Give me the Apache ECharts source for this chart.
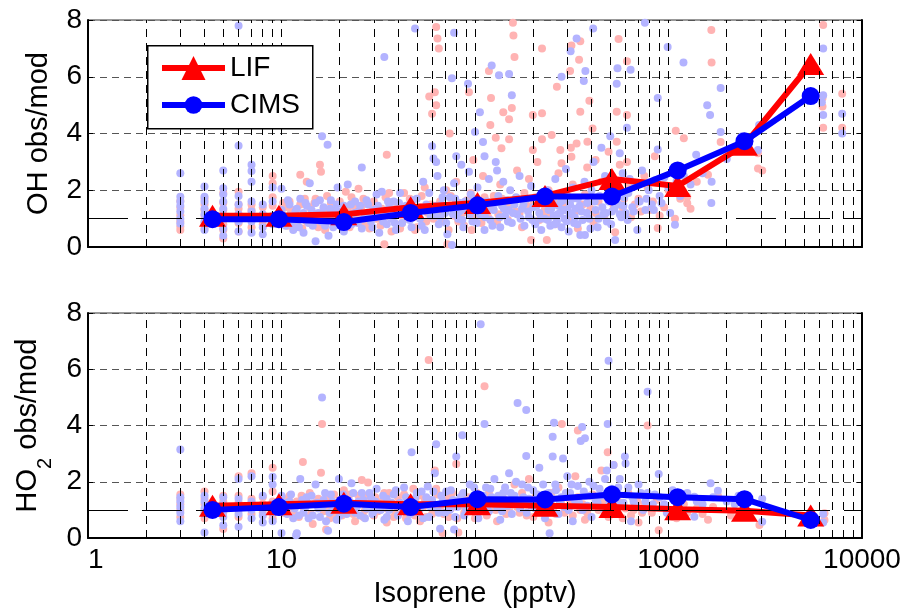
<!DOCTYPE html>
<html>
<head>
<meta charset="utf-8">
<script src="https://cdn.jsdelivr.net/npm/echarts@6/dist/echarts.min.js"></script>
<style>
html,body{margin:0;padding:0;background:#fff;}
#chart{width:906px;height:609px;}
</style>
</head>
<body>
<div id="chart"></div>
<script>
// ---------- data ----------
const binX = [4.4, 9.7, 21, 46.5, 103, 230, 510, 1115, 2470, 5430];
const ohLIF = [1.1, 1.1, 1.15, 1.4, 1.55, 1.8, 2.4, 2.15, 3.6, 6.45];
const ohCIMS = [0.98, 0.98, 0.88, 1.2, 1.47, 1.78, 1.78, 2.7, 3.73, 5.32];
const ho2LIF = [1.15, 1.2, 1.25, 1.2, 1.2, 1.15, 1.1, 1.02, 0.97, 0.8];
const ho2CIMS = [1.0, 1.1, 1.22, 1.1, 1.38, 1.37, 1.55, 1.45, 1.38, 0.64];

const xTickLabels = ['1', '10', '100', '1000', '10000'];
const decades = [1, 10, 100, 1000];
const minorMultipliers = [2, 3, 4, 5, 6, 7, 8, 9, 10];

// OH, LIF (pink scatter)
const ohLifPts = [
[3,1.62],[3,1.38],[3,1.12],[3,0.9],[3,0.72],[3,0.6],
[4,1.7],[4,1.5],[4,1.3],[4,1.1],[4,0.85],[4,0.65],
[5,1.9],[5,1.55],[5,1.3],[5,1.05],[5,0.8],[5,0.6],[5,0.3],
[6,1.95],[6,1.5],[6,1.35],[6,1.1],[6,0.85],[6,0.55],
[7,1.5],[7,1.3],[7,1.05],[7,0.7],
[8,1.4],[8,1.1],[8,0.8],
[9,2.5],[9,2.25],[9,1.75],[9,1.45],[9,1.1],[9,0.85],
[10,1.2],[10,0.95],[10.5,1.4],[11,1.6],[11,1.0],[11.5,1.3],[12,0.8],[12.5,2.55],[12.5,1.5],[13,1.1],[13.5,2.3],[13.5,0.9],
[14,1.4],[14.5,1.2],[15,1.7],[15.5,0.7],[15.8,2.9],[16,2.65],[16.5,1.35],[17,1.05],[18,1.55],[18.5,0.85],[19,1.2],[20,1.6],
[21,0.95],[22,1.3],[23,1.75],[24,1.05],[25,2.05],[26,1.45],[27,0.8],[28,1.2],[30,1.6],[31,1.0],[33,1.35],[34,0.1],[35,3.25],
[36,1.9],[37,0.55],[38,1.15],[40,1.5],[42,0.85],[44,1.25],[46,1.7],[48,1.05],[50,0.7],[52,1.4],[55,2.1],[57,1.2],
[58,5.3],[60,4.7],[62,5.45],[63,5.0],[63,7.75],[64,7.35],[65,7.0],[66,1.6],[68,0.9],[70,1.3],[72,0.1],[74,4.0],[75,1.8],
[78,1.1],[80,2.3],[85,1.5],[88,0.75],[90,1.25],[93,5.45],[95,1.9],[98,3.07],[100,1.05],[105,1.6],[110,2.5],[115,1.3],
[118,6.2],[120,4.3],[121,5.25],[125,1.8],[128,3.85],[130,0.9],[135,2.2],[137,3.48],[140,4.75],[145,1.4],[150,4.5],[150,3.8],
[155,4.9],[157,7.9],[158,7.45],[160,6.7],[165,2.7],[170,1.2],[180,1.9],[190,2.4],[195,0.25],[199,4.65],[199,3.42],[200,1.5],
[210,3.0],[222,7.0],[222,4.71],[222,3.8],[225,1.1],[235,0.25],[240,2.0],[249,3.95],[255,1.6],[265,5.65],[270,2.6],[276,3.42],
[280,2.95],[285,1.3],[300,1.8],[310,6.2],[313,3.5],[315,7.1],[315,3.18],[320,2.2],[335,3.65],[345,6.6],[350,7.25],[350,4.77],
[360,1.5],[380,2.8],[381,3.71],[390,5.15],[405,4.18],[420,3.07],[420,1.2],[450,2.3],[490,3.36],[500,1.9],[530,0.52],
[540,4.77],[540,3.71],[552,7.33],[560,2.9],[580,1.4],[610,6.55],[610,4.65],[610,3.0],[620,2.2],[700,1.7],[750,2.5],[800,1.3],
[850,3.2],[880,0.67],[900,1.1],[1000,2.0],[1080,1.0],[1090,4.1],[1200,3.83],[1250,1.77],[1250,1.54],[1400,2.3],[1600,2.55],
[1665,7.65],[1670,6.5],[1860,3.7],[2900,3.3],[2900,2.77],[3050,2.7],[6250,5.25],[6250,4.95],[6300,7.82],[6300,4.2],[7900,5.4],[7900,4.2],
[10.2,1.55],[10.8,0.75],[11.2,1.25],[12.2,1.05],[12.8,0.65],[13.2,1.7],[14.2,0.95],[14.8,1.55],[15.2,1.05],[16.8,0.6],[17.2,1.8],
[17.8,1.25],[19.5,0.9],[20.5,1.15],[21.5,1.95],[22.5,0.7],[23.5,1.45],[24.5,1.25],[25.5,0.95],[26.5,1.7],[28.5,0.65],[29.5,1.45],
[31.5,1.25],[32.5,0.75],[34.5,1.75],[36.5,1.05],[39,1.35],[41,0.65],[43,1.9],[45,1.0],[47,1.5],[49,0.6],[51,1.25],[53,1.8],
[56,0.9],[59,1.5],[61,1.0],[67,1.25],[71,2.0],[73,0.6],[77,1.45],[82,0.9],[86,1.2],[91,1.65],[96,0.6],[102,1.3],[108,0.85],
[112,1.75],[117,1.05],[123,1.45],[132,1.15],[138,1.7],[148,0.95],[153,1.55],[162,1.25],[175,0.7],[185,1.45],[205,1.75],[215,0.95],
[230,1.35],[245,1.15],[260,0.8],[290,1.55],[305,1.0],[330,1.25],[340,0.65],[370,1.85],[395,1.35],[410,0.85],[435,1.6],[465,1.1],
[520,1.45],[590,1.7],[640,1.05],[670,1.5],[720,1.25],[780,2.1],[830,1.6],[950,1.4],[1150,1.7],[1300,1.35]
];

// OH, CIMS (blue scatter)
const ohCimsPts = [
[3,2.6],[3,1.77],[3,1.6],[3,1.45],[3,1.25],[3,1.0],[3,0.83],
[4,2.13],[4,1.77],[4,1.6],[4,1.35],[4,1.15],[4,0.9],[4,0.6],
[5,2.7],[5,2.07],[5,1.85],[5,1.6],[5,1.35],[5,1.1],[5,0.65],[5,0.4],
[6,7.8],[6,3.57],[6,1.8],[6,1.5],[6,1.15],[6,0.9],[6,0.55],
[7,2.9],[7,2.68],[7,2.3],[7,1.6],[7,1.25],[7,0.9],[7,0.5],
[8,1.5],[8,1.15],[8,0.7],[8,0.45],
[9,2.1],[9,1.6],[9,1.1],[9,0.8],
[10,2.05],[10,1.3],[10.5,0.75],[11,1.5],[11,1.1],[11.5,0.6],[12,1.35],[12,0.95],[12.5,1.7],[13,1.2],[13,0.5],[13.5,1.45],
[14,1.0],[14,2.25],[14.5,0.75],[15,1.55],[15,0.2],[15.5,1.2],[16.2,3.9],[16,0.9],[16.5,1.4],[17.3,3.6],[17.5,0.4],[17.5,1.1],
[18,1.65],[18.5,0.7],[19,1.3],[19.5,2.1],[20,1.0],[21,1.45],[21,0.55],[22,2.2],[22.5,1.15],[23,0.8],[24,1.6],[25,1.25],
[26,2.8],[26,0.65],[27,1.05],[28,1.5],[29,0.9],[30,1.3],[31,1.85],[32,0.5],[33,1.95],[33,1.15],[34,6.7],[35,0.8],[36,1.4],
[37,1.0],[38,1.6],[39,0.6],[40,1.2],[41,1.9],[42,0.85],[44,1.45],[45,1.1],[47,0.7],[48,1.3],[49,7.7],
[50,1.7],[52,1.0],[54,2.3],[55,0.6],[57,1.35],[58,1.9],[60,3.55],[61,3.12],[62,1.1],[63,3.0],[64,2.5],[65,0.8],[67,1.5],
[69,2.0],[70,1.2],[72,0.45],[74,1.75],[76,0.07],[76,5.95],[78,7.55],[78,2.25],[80,3.2],[82,1.0],[84,1.55],[85,2.9],[87,0.7],
[90,1.3],[92,5.75],[93,2.65],[95,1.85],[97,0.9],[100,4.05],[100,1.4],[103,2.1],[106,4.75],[106,1.15],[110,3.7],[112,3.2],
[112,0.6],[115,1.6],[118,2.4],[120,0.95],[122,6.4],[125,1.3],[128,3.0],[130,2.7],[132,1.8],[133,6.05],[135,0.7],[138,1.45],
[140,2.3],[143,1.1],[146,1.65],[150,6.1],[150,1.3],[152,2.0],[155,5.35],[155,0.85],[160,1.5],[165,1.15],[170,2.5],[175,1.35],
[180,0.75],[185,1.7],[190,1.05],[195,2.15],
[200,1.4],[205,0.8],[210,1.75],[215,1.2],[220,0.6],[225,1.55],[230,1.0],[235,2.0],[240,1.3],[245,0.75],[250,1.6],[255,1.1],
[260,2.4],[265,0.9],[270,1.45],[275,1.2],[280,6.0],[280,0.7],[285,1.65],[290,1.0],[295,2.75],[300,1.3],[305,0.55],[312,6.9],
[310,1.5],[315,1.15],[320,2.1],[325,0.85],[330,1.35],[335,7.35],[340,1.7],[350,0.42],[355,1.25],[365,5.85],[368,2.3],[370,0.42],
[372,6.2],[380,1.55],[390,1.0],[400,2.0],[408,7.7],[410,3.0],[420,1.3],[430,0.7],[440,1.8],[450,3.5],[460,1.15],[470,2.5],
[480,0.9],[490,1.6],[500,3.9],[510,1.25],[520,2.05],[530,0.25],[540,5.75],[545,6.3],[550,1.5],[560,3.3],[570,1.05],[580,2.6],
[590,1.75],[600,1.2],[610,4.2],[620,1.9],[630,2.4],[637,6.25],[650,1.4],[670,2.2],[690,0.6],[710,1.6],[730,2.7],[755,7.9],
[760,1.3],[790,2.0],[820,1.5],[850,2.35],[880,5.25],[880,3.44],[900,1.8],[950,2.45],[990,7.05],[1000,2.1],
[1080,0.78],[1100,2.3],[1195,6.5],[1200,2.5],[1300,2.2],[1390,3.25],[1500,2.6],[1585,5.0],[1640,4.65],[1665,1.55],[1670,2.3],
[1860,5.6],[1860,4.05],[2000,3.1],[2400,3.9],[2900,3.42],[2940,4.3],
[6200,5.1],[6300,7.0],[6300,5.35],[6300,4.65],[7900,4.7],[7900,4.0],
[10.2,0.95],[10.8,1.65],[11.3,0.85],[11.8,1.25],[12.3,0.7],[12.8,1.05],[13.3,1.55],[13.8,0.85],[14.3,1.3],[15.3,0.95],[15.8,1.65],
[16.3,1.15],[16.8,0.75],[17.8,1.35],[18.3,0.95],[19.3,1.5],[20.3,1.25],[20.8,0.7],[21.8,1.05],[22.8,1.5],[23.8,1.2],[24.8,0.85],
[25.5,1.45],[26.5,1.0],[27.5,1.65],[28.5,1.2],[29.5,0.7],[30.5,1.05],[31.5,1.45],[33.5,0.9],[34.5,1.25],[35.5,1.6],[37.5,1.3],
[38.5,0.85],[40.5,1.55],[43,1.2],[46,0.95],[47.5,1.65],[50.5,1.2],[53,0.75],[56,1.5],[59,1.1],[62.5,1.45],[66,1.05],[68,1.75],
[71,0.85],[73,1.45],[77,1.15],[79,1.7],[83,1.25],[86,0.95],[89,1.6],[94,1.15],[98,1.7],[102,0.85],[108,1.45],[113,1.05],[117,1.3],
[123,0.75],[127,1.55],[134,1.05],[141,1.35],[148,0.9],[157,1.2],[163,1.75],[172,1.0],[178,1.5],[188,1.25],[198,0.95],[208,1.45],
[218,1.0],[228,1.8],[238,0.95],[248,1.35],[258,0.8],[268,1.15],[278,1.6],[288,1.3],[298,0.9],[308,1.2],[318,1.7],[328,1.05],
[338,0.8],[348,1.45],[360,0.95],[378,1.2],[395,0.65],[415,1.6],[435,1.0],[455,1.4],[475,1.2],[505,0.8],[525,1.35],[560,1.15],
[585,1.45],[615,0.95],[660,1.25],[700,1.6],[770,1.7],[840,1.3],[920,1.55],[1020,1.2],[1150,1.8]
];

// HO2, LIF (pink scatter)
const ho2LifPts = [
[3,1.55],[3,1.4],[3,1.2],[3,1.0],[3,0.75],
[4,1.65],[4,1.4],[4,1.2],[4,0.95],[4,0.7],
[5,1.5],[5,1.3],[5,1.1],[5,0.9],[5,0.32],
[6,2.2],[6,1.5],[6,1.25],[6,1.0],[6,0.75],
[7,2.3],[7,1.4],[7,1.15],[7,0.85],
[8,1.45],[8,1.2],[8,0.9],
[9,2.5],[9,1.65],[9,1.3],[9,1.0],[9,0.7],
[10,1.2],[11,1.5],[11.5,0.9],[12,1.3],[12.9,2.7],[13,1.05],[14,1.6],[14.5,0.5],[15,1.25],[16,2.32],[16.2,4.05],[16.5,0.95],
[17,0.3],[17.5,1.45],[18,1.1],[19,0.75],[20,1.35],[21,1.7],[22,0.95],[23,1.2],[24,0.6],[25,1.5],[26,2.06],[27,1.0],[28,1.97],
[29,1.3],[30,0.8],[32,1.15],[34,1.6],[35,0.55],[37,1.25],[39,0.9],[40,1.45],[42,1.1],[44,0.7],[46,1.35],[48,1.75],[50,1.0],
[52,0.6],[55,1.4],[57.6,6.33],[58,1.2],[60,0.85],[62,2.4],[64,1.55],[66,1.0],[68,0.18],[70,1.3],[73,0.75],[76,1.6],[80,2.63],
[82,0.2],[84,1.15],[88,0.9],[92,1.45],[96,1.2],[100,0.7],[105,1.35],[112,5.4],[110,1.0],[118,1.6],[125,1.2],[130,0.6],[140,1.4],
[150,1.05],[160,1.9],[170,0.9],[180,1.3],[190,2.1],[200,0.75],[210,1.2],[225,1.5],[240,0.55],[255,1.1],[270,1.8],[281,4.05],
[290,0.9],[310,1.35],[330,2.2],[340,3.82],[350,1.0],[370,0.65],[390,1.5],[420,1.2],[450,2.4],[470,0.85],[485,3.05],[500,1.1],
[520,2.6],[550,1.3],[580,0.7],[620,1.6],[660,1.0],[700,0.55],[750,1.2],[780,4.0],[820,0.9],[890,0.28],[950,1.1],[1050,0.75],
[1150,1.3],[1250,0.9],[1400,1.05],[1600,0.65],[1800,1.5],[2100,0.8],[2500,1.0],[2950,0.46],[6400,0.88],[6400,0.64],
[10.3,0.9],[10.8,1.4],[11.3,1.1],[12.3,0.75],[12.7,1.5],[13.5,1.25],[14.2,0.85],[15.5,1.4],[16.8,1.15],[17.8,0.7],[18.7,1.55],
[19.5,1.05],[20.5,0.8],[21.5,1.25],[22.5,1.55],[23.5,0.85],[24.5,1.15],[25.5,1.35],[26.5,0.75],[27.5,1.5],[28.5,1.1],[30.5,1.45],
[31.5,0.95],[33,1.3],[35,1.05],[36,1.6],[38,0.75],[41,1.2],[43,1.55],[45,0.95],[47,1.25],[49,0.8],[51,1.5],[54,1.1],[56,0.75],
[59,1.35],[61,1.0],[63,1.75],[67,1.2],[69,0.85],[72,1.45],[75,1.05],[78,1.3],[81,0.7],[86,1.55],[90,1.0],[94,1.3],[98,0.95],
[102,1.6],[107,1.15],[115,0.8],[121,1.35],[128,1.0],[135,1.5],[145,0.85],[155,1.3],[165,1.1],[175,1.6],[185,0.8],[195,1.25],
[205,1.45],[218,0.95],[232,1.2],[248,1.6],[262,0.85],[278,1.25],[298,1.1],[320,0.8],[340,1.45],[360,1.2],[380,0.9],[405,1.55],
[435,1.0],[460,1.3],[490,0.75],[510,1.45],[540,0.95],[570,1.2],[600,1.05],[640,0.8],[690,1.3],[730,0.9],[800,1.15],[870,1.35],
[1000,1.0],[1100,0.7],[1200,1.2],[1500,0.85],[1700,1.1],[2300,0.9]
];

// HO2, CIMS (blue scatter)
const ho2CimsPts = [
[3,3.15],[3,1.45],[3,1.3],[3,1.1],[3,0.9],[3,0.6],
[4,1.5],[4,1.3],[4,1.05],[4,0.85],[4,0.2],
[5,1.45],[5,1.2],[5,0.95],[5,0.75],[5,0.45],
[6,2.1],[6,1.4],[6,1.15],[6,0.85],[6,0.4],
[7,2.2],[7,1.3],[7,1.0],[7,0.7],
[8,1.5],[8,1.05],[8,0.8],[8,0.55],
[9,2.18],[9,1.9],[9,1.2],[9,0.9],[9,0.6],
[10,1.5],[10,0.18],[10.5,1.0],[11,1.3],[11.5,0.7],[11.9,0.1],[12,0.17],[12,1.15],[12.5,2.1],[13,0.9],[13.5,1.45],[14,1.2],
[14.5,0.8],[15,1.9],[15.5,1.05],[16.2,5.0],[16.5,1.35],[17,0.6],[17.4,0.26],[18,1.55],[18.5,1.0],[19,1.25],[19.8,2.1],[20,0.8],
[21,1.4],[22,1.1],[23,1.95],[24,0.9],[25,1.3],[26,1.6],[27,0.7],[28,1.15],[29,1.45],[30,0.95],[31,1.75],[32,1.2],[34,0.65],
[35,1.4],[36,1.0],[38,1.55],[40,0.8],[41,1.25],[43,1.8],[45,0.6],[47,3.05],[47,1.1],[49,1.4],[51,0.9],[53,1.65],[55,1.2],
[57,1.83],[58,0.75],[60,1.35],[62,2.3],[63,3.33],[64,1.05],[66,0.33],[67,1.5],[70,0.9],[72,1.2],[75,1.7],[78,0.3],[80,2.9],
[81,1.1],[84,1.45],[86,3.65],[88,0.8],[91,1.3],[94,1.9],[97,1.0],[100,1.55],[104,0.7],[107,7.6],[108,1.25],[112,4.05],[114,1.8],
[118,0.95],[122,1.45],[126,2.1],[130,1.1],[135,0.65],[140,1.6],[145,1.3],[150,2.3],[155,0.85],[160,1.5],[166,4.8],[168,1.2],
[175,1.9],[184,4.55],[184,2.92],[185,0.9],[190,1.4],[200,1.7],[205,1.05],[215,2.5],[220,1.3],[230,0.7],[243,0.17],[240,1.6],
[250,1.15],[252,3.6],[252,2.9],[256,4.1],[260,1.9],[270,0.85],[280,1.45],[285,2.83],[290,1.1],[300,2.2],[310,1.6],[320,0.6],
[330,1.3],[340,1.85],[352,3.45],[358,3.95],[360,1.0],[370,3.55],[375,1.5],[390,2.0],[400,0.75],[420,1.35],[440,1.75],[460,1.05],
[485,4.05],[490,6.3],[480,2.4],[500,1.5],[520,2.6],[530,0.9],[550,1.8],[570,1.2],[595,2.9],[600,2.65],[610,1.55],[640,0.6],
[660,1.3],[700,1.9],[740,1.0],[780,5.2],[780,1.6],[830,1.2],[890,2.28],[900,1.45],[980,0.9],[1050,1.7],[1150,1.25],[1250,1.6],
[1360,1.47],[1360,0.76],[1500,1.2],[1650,1.95],[1800,1.68],[2000,1.3],[2300,1.5],[3050,1.4],[3050,0.58],[6300,0.85],[6300,0.55],
[10.3,1.25],[10.7,0.85],[11.2,1.55],[11.7,1.05],[12.3,0.8],[12.8,1.35],[13.3,1.1],[13.8,0.7],[14.3,1.5],[15.3,1.25],[15.8,0.75],
[16.3,1.1],[16.8,1.6],[17.7,0.9],[18.3,1.3],[19.3,0.65],[20.3,1.2],[20.8,1.55],[21.7,0.85],[22.5,1.3],[23.5,1.6],[24.5,1.1],
[25.5,0.8],[26.5,1.35],[27.5,1.05],[28.5,1.6],[29.5,0.85],[30.5,1.3],[32.5,1.0],[33.5,1.5],[35,0.75],[37,1.25],[39,1.7],[42,1.05],
[44,1.45],[46,0.85],[48,1.2],[50,1.6],[52,1.05],[54,0.7],[56,1.45],[59,1.1],[61,1.65],[65,0.9],[68,1.3],[71,1.65],[74,1.0],
[77,1.35],[79,0.75],[83,1.2],[87,1.6],[90,1.0],[95,1.35],[99,1.8],[103,1.2],[110,1.5],[116,1.05],[120,1.75],[124,1.25],[132,1.5],
[138,0.95],[143,1.8],[148,1.15],[153,1.6],[158,1.3],[163,2.0],[171,1.05],[178,1.45],[188,1.8],[195,1.15],[210,1.55],[225,1.9],
[235,1.2],[245,1.45],[262,1.7],[275,1.25],[295,1.6],[305,1.0],[315,1.9],[325,1.4],[345,1.25],[365,1.65],[380,1.15],[395,1.5],
[410,1.85],[430,1.25],[450,1.5],[470,2.1],[495,1.2],[510,1.75],[540,1.35],[560,2.1],[585,1.25],[620,1.8],[650,1.45],[680,1.15],
[720,1.6],[760,1.3],[850,1.55],[950,1.2],[1100,1.45],[1200,0.95],[1400,1.3],[1700,1.45],[2200,1.2],[2600,1.35]
];

// ---------- helpers ----------
const FONT = 'Arial, "Liberation Sans", Helvetica, sans-serif';
const PINK = '#ffb3b3';
const LAV = '#b3b3ff';
const RED = '#ff0000';
const BLUE = '#0000ff';

const gridXs = [];
decades.forEach(d => minorMultipliers.forEach(m => { const v = d * m; if (v < 10000) gridXs.push(v); }));

function zip(xs, ys) { return xs.map((x, i) => [x, ys[i]]); }

function gridLineSeries(idx) {
  return {
    type: 'line', xAxisIndex: idx, yAxisIndex: idx, data: [], z: 1, silent: true,
    markLine: {
      silent: true, symbol: ['none', 'none'], label: { show: false }, animation: false,
      lineStyle: { type: [8, 6], color: '#000', width: 1 },
      emphasis: { disabled: true },
      data: gridXs.map(v => ({ xAxis: v }))
    }
  };
}
function refLineSeries(idx) {
  return {
    type: 'line', xAxisIndex: idx, yAxisIndex: idx, data: [], z: 3, silent: true,
    markLine: {
      silent: true, symbol: ['none', 'none'], label: { show: false }, animation: false,
      lineStyle: { type: [40, 14], color: '#000', width: 1 },
      emphasis: { disabled: true },
      data: [{ yAxis: 1 }]
    }
  };
}
function scatter(idx, pts, color) {
  return {
    type: 'scatter', xAxisIndex: idx, yAxisIndex: idx, data: pts, symbolSize: 8, z: 2, silent: true,
    itemStyle: { color: color, opacity: 1 }
  };
}
function lineSeries(idx, name, ys, color, sym, size, z) {
  return {
    name: name, type: 'line', xAxisIndex: idx, yAxisIndex: idx, data: zip(binX, ys), z: z,
    symbol: sym, symbolSize: size, showAllSymbol: true,
    lineStyle: { color: color, width: 6 },
    itemStyle: { color: color, borderWidth: 0 },
    emphasis: { disabled: true }, silent: true
  };
}

const yLeft = (idx, name, rich) => ({
  gridIndex: idx, type: 'value', min: 0, max: 8, interval: 2,
  axisLabel: { fontSize: 28, color: '#000', fontFamily: FONT, margin: 6 },
  axisLine: { show: true, lineStyle: { color: '#000', width: 2 } },
  axisTick: { show: true, inside: true, length: 5, lineStyle: { color: '#000' } },
  splitLine: { show: true, lineStyle: { type: [7, 5], color: '#555', width: 1 } },
  name: name, nameLocation: 'middle', nameGap: 35,
  nameTextStyle: Object.assign({ fontSize: 29, color: '#000', fontFamily: FONT }, rich ? { rich: rich } : {})
});
const yRight = (idx) => ({
  gridIndex: idx, type: 'value', min: 0, max: 8, interval: 2, position: 'right',
  axisLabel: { show: false },
  axisLine: { show: true, lineStyle: { color: '#000', width: 2 } },
  axisTick: { show: true, inside: true, length: 5, lineStyle: { color: '#000' } },
  splitLine: { show: false }
});
const xAx = (idx, showLabels) => ({
  gridIndex: idx, type: 'log', logBase: 10, min: 1, max: 10000,
  axisLine: { show: true, lineStyle: { color: '#000', width: 2 } },
  axisTick: { show: false }, splitLine: { show: false }, minorTick: { show: false },
  axisLabel: {
    show: showLabels, fontSize: 28, color: '#000', fontFamily: FONT, margin: 8, alignMinLabel: 'left',
    formatter: v => xTickLabels[Math.round(Math.log10(v))]
  }
});

const chart = echarts.init(document.getElementById('chart'), null, { renderer: 'canvas' });
const x1 = xAx(1, true);
x1.name = 'Isoprene  (pptv)';
x1.nameLocation = 'middle';
x1.nameGap = 41;
x1.nameTextStyle = { fontSize: 29, color: '#000', fontFamily: FONT };

const ho2Rich = {
  a: { fontSize: 29, color: '#000', fontFamily: FONT, lineHeight: 32, verticalAlign: 'top' },
  s: { fontSize: 20, color: '#000', fontFamily: FONT, lineHeight: 20, verticalAlign: 'top', padding: [22, 0, 0, 0] }
};

chart.setOption({
  animation: false,
  backgroundColor: '#fff',
  grid: [
    { left: 88, top: 20, width: 774, height: 227, show: true, borderColor: '#333', borderWidth: 1, backgroundColor: 'transparent' },
    { left: 88, top: 313, width: 774, height: 225, show: true, borderColor: '#333', borderWidth: 1, backgroundColor: 'transparent' }
  ],
  xAxis: [xAx(0, false), x1],
  yAxis: [yLeft(0, 'OH obs/mod'), yLeft(1, '{a|HO}{s|2}{a| obs/mod}', ho2Rich), yRight(0), yRight(1)],
  legend: [
    { data: ['LIF'], left: 159, top: 53, orient: 'vertical', itemWidth: 63, itemHeight: 30, selectedMode: false, z: 10,
      padding: 0, lineStyle: { width: 6 },
      textStyle: { fontSize: 28, color: '#000', fontFamily: FONT, lineHeight: 30 } },
    { data: ['CIMS'], left: 159, top: 90, orient: 'vertical', itemWidth: 63, itemHeight: 22, selectedMode: false, z: 10,
      padding: 0, lineStyle: { width: 6 },
      textStyle: { fontSize: 28, color: '#000', fontFamily: FONT, lineHeight: 30 } }
  ],
  graphic: [
    { type: 'rect', left: 147, top: 45, z: 9, silent: true,
      shape: { width: 165, height: 83 }, style: { fill: '#fff', stroke: '#000', lineWidth: 1.5 } }
  ],
  series: [
    gridLineSeries(0), gridLineSeries(1),
    scatter(0, ohLifPts, PINK), scatter(0, ohCimsPts, LAV),
    scatter(1, ho2LifPts, PINK), scatter(1, ho2CimsPts, LAV),
    refLineSeries(0), refLineSeries(1),
    lineSeries(0, 'LIF', ohLIF, RED, 'triangle', [27, 22], 4),
    lineSeries(0, 'CIMS', ohCIMS, BLUE, 'circle', 18, 5),
    lineSeries(1, 'LIF', ho2LIF, RED, 'triangle', [27, 22], 4),
    lineSeries(1, 'CIMS', ho2CIMS, BLUE, 'circle', 18, 5)
  ]
});
</script>
</body>
</html>
